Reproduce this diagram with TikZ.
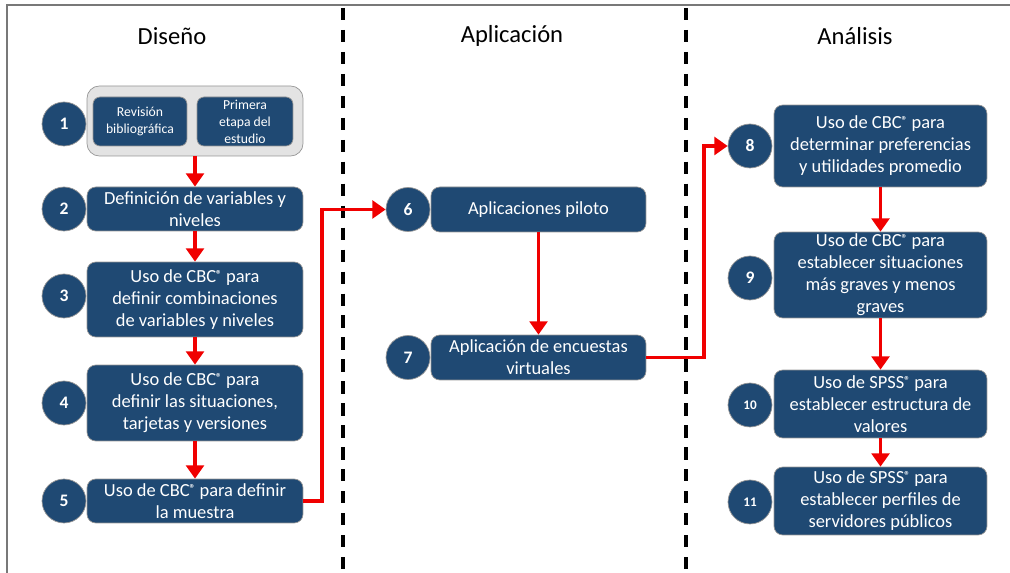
\documentclass[tikz,border=0pt]{standalone}
\usepackage{fontspec}
\setmainfont{Carlito}
\usetikzlibrary{arrows.meta}
\definecolor{azul}{RGB}{31,73,115}
\definecolor{rojo}{RGB}{240,0,0}
\definecolor{grisborde}{RGB}{150,150,150}
\newcommand{\marca}{\raisebox{0.45ex}{\fontsize{6.5}{6.5}\selectfont\bfseries ®}}

\begin{document}
\begin{tikzpicture}[x=0.02cm,y=-0.02cm,
  caja/.style={draw=grisborde,fill=azul,rounded corners=5pt,text=white,align=center,
    font=\fontsize{10.5}{12.5}\selectfont,inner sep=1pt},
  cajita/.style={caja,rounded corners=4pt,font=\fontsize{7.8}{9.6}\selectfont},
  num/.style={circle,draw=grisborde,fill=azul,text=white,minimum size=0.88cm,inner sep=0pt,
    font=\fontsize{10}{12}\selectfont\bfseries},
  flecha/.style={draw=rojo,line width=2.2pt,-{Triangle[width=10pt,length=7.5pt]}},
  titulo/.style={font=\fontsize{14}{16}\selectfont}]
\useasboundingbox (0,0) rectangle (1010,573);
\draw[grisborde!80!black,line width=1pt] (7,573)--(7,5)--(1010,5);
\draw[line width=1.8pt,dash pattern=on 7pt off 5.5pt] (343,8)--(343,573);
\draw[line width=1.8pt,dash pattern=on 7pt off 5.5pt] (686,8)--(686,573);

\node[titulo] (tdis) at (172,36) {Diseño};
\node[titulo] (tapl) at (512,36) {Aplicación};
\node[titulo] (tana) at (855,36) {Análisis};

% Diseño
\node[draw=grisborde,fill=gray!22,rounded corners=7pt,minimum width=4.32cm,minimum height=1.4cm] (g1) at (195,121) {};
\node[cajita,minimum width=1.88cm,minimum height=0.98cm] (b1a) at (140,121.5) {Revisión\\bibliográfica};
\node[cajita,minimum width=1.92cm,minimum height=0.98cm] (b1b) at (245,121.5) {Primera\\etapa del\\estudio};
\node[caja,minimum width=4.32cm,minimum height=0.88cm] (b2) at (195,209) {Definición de variables y\\niveles};
\node[caja,minimum width=4.32cm,minimum height=1.5cm] (b3) at (195,299.5) {Uso de CBC\marca{} para\\definir combinaciones\\de variables y niveles};
\node[caja,minimum width=4.32cm,minimum height=1.52cm] (b4) at (195,403) {Uso de CBC\marca{} para\\definir las situaciones,\\tarjetas y versiones};
\node[caja,minimum width=4.32cm,minimum height=0.88cm] (b5) at (195,501) {Uso de CBC\marca{} para definir\\la muestra};
\node[num] (c1) at (64,124) {1};
\node[num] (c2) at (64,209) {2};
\node[num] (c3) at (64,296) {3};
\node[num] (c4) at (64,403) {4};
\node[num] (c5) at (64,501) {5};

% Aplicación
\node[caja,minimum width=4.3cm,minimum height=0.9cm] (b6) at (538.5,209.5) {Aplicaciones piloto};
\node[caja,minimum width=4.3cm,minimum height=0.9cm] (b7) at (538.5,357.5) {Aplicación de encuestas\\virtuales};
\node[num] (c6) at (408,209.5) {6};
\node[num] (c7) at (408,357.5) {7};

% Análisis
\node[caja,minimum width=4.26cm,minimum height=1.64cm] (b8) at (880.5,146) {Uso de CBC\marca{} para\\determinar preferencias\\y utilidades promedio};
\node[caja,minimum width=4.26cm,minimum height=1.72cm] (b9) at (880.5,275) {Uso de CBC\marca{} para\\establecer situaciones\\más graves y menos\\graves};
\node[caja,minimum width=4.26cm,minimum height=1.36cm] (b10) at (880.5,404) {Uso de SPSS\marca{} para\\establecer estructura de\\valores};
\node[caja,minimum width=4.26cm,minimum height=1.36cm] (b11) at (880.5,501) {Uso de SPSS\marca{} para\\establecer perfiles de\\servidores públicos};
\node[num] (c8) at (750,146) {8};
\node[num] (c9) at (750,278) {9};
\node[num,font=\fontsize{7.5}{9}\selectfont\bfseries] (c10) at (750,405) {10};
\node[num,font=\fontsize{7.5}{9}\selectfont\bfseries] (c11) at (750,502) {11};

\draw[flecha] (g1.south) -- (b2.north);
\draw[flecha] (b2.south) -- (b3.north);
\draw[flecha] (b3.south) -- (b4.north);
\draw[flecha] (b4.south) -- (b5.north);
\draw[flecha] (b5.east) -- ++(19,0) |- (c6.west);
\draw[flecha] (b6.south) -- (b7.north);
\draw[flecha] (b7.east) -- ++(58,0) |- (c8.west);
\draw[flecha] (b8.south) -- (b9.north);
\draw[flecha] (b9.south) -- (b10.north);
\draw[flecha] (b10.south) -- (b11.north);
\end{tikzpicture}
\end{document}
